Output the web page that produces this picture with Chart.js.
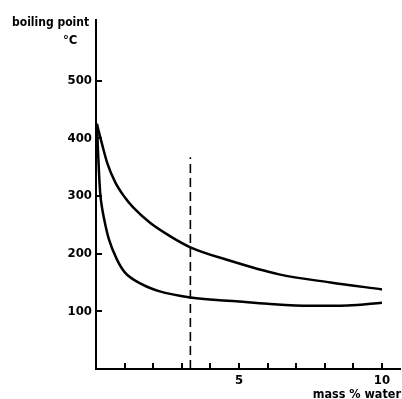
<!DOCTYPE html>
<html>
<head>
<meta charset="utf-8" />
<title>boiling point vs mass % water</title>
<script src="https://cdn.jsdelivr.net/npm/chart.js@4.4.0/dist/chart.umd.min.js"></script>
<style>
  body { margin: 0; background: #fff; }
  #wrap { position: relative; width: 402px; height: 399px; }
</style>
</head>
<body>
<div id="wrap"><canvas id="myChart" width="402" height="399"></canvas></div>

<script>
// values
const upperX = [0.03, 0.2, 0.4, 0.67, 1.0, 1.3, 1.9, 2.6, 3.3, 4.6, 6.4, 8.2, 10];
const upperY = [425, 392, 356, 324, 298, 280, 253, 230, 211, 189, 164, 150, 138];
const lowerX = [0.03, 0.07, 0.11, 0.15, 0.2, 0.28, 0.45, 0.73, 1.0, 1.6, 2.2, 3.3, 5, 6, 7.5, 8.8, 10];
const lowerY = [425, 378, 335, 303, 283, 261, 225, 190, 168, 147, 135, 124, 117, 113, 109.5, 110, 115];
const dashX = [3.3, 3.3];
const dashY = [0, 367];
const yTicks = [100, 200, 300, 400, 500];
const xTicks = [1, 2, 3, 4, 5, 6, 7, 8, 9, 10];
const xLabels = [5, 10];

const FONT = '"DejaVu Sans Condensed", "DejaVu Sans", sans-serif';

function pts(xs, ys) {
  return xs.map(function (x, i) { return { x: x, y: ys[i] }; });
}

// small tick marks pointing into the plot, plus the axis texts
const extras = {
  id: 'extras',
  afterDraw: function (chart) {
    const c = chart.ctx;
    const xs = chart.scales.x, ys = chart.scales.y;
    const left = chart.chartArea.left, bottom = chart.chartArea.bottom;
    c.save();
    c.strokeStyle = '#000';
    c.lineWidth = 2;
    c.beginPath();
    yTicks.forEach(function (v) {
      const py = Math.round(ys.getPixelForValue(v));
      c.moveTo(left, py);
      c.lineTo(left + 6, py);
    });
    xTicks.forEach(function (v) {
      const px = Math.round(xs.getPixelForValue(v));
      c.moveTo(px, bottom);
      c.lineTo(px, bottom - 6);
    });
    c.stroke();

    c.fillStyle = '#000';
    c.font = 'bold 12px ' + FONT;
    c.textBaseline = 'alphabetic';
    c.textAlign = 'left';
    c.fillText('boiling point', 12, 26);
    c.font = 'bold 13px ' + FONT;
    c.fillText('°C', 63, 44);
    c.font = 'bold 12.5px ' + FONT;
    c.textAlign = 'right';
    c.fillText('mass % water', 401, 398);
    c.restore();
  }
};

const ctx = document.getElementById('myChart');
const myChart = new Chart(ctx, {
  type: 'scatter',
  data: {
    datasets: [{
      label: 'upper',
      data: pts(upperX, upperY),
      showLine: true,
      borderColor: '#000',
      borderWidth: 2.5,
      pointRadius: 0,
      cubicInterpolationMode: 'monotone'
    }, {
      label: 'lower',
      data: pts(lowerX, lowerY),
      showLine: true,
      borderColor: '#000',
      borderWidth: 2.5,
      pointRadius: 0,
      cubicInterpolationMode: 'monotone'
    }, {
      label: 'dashed',
      data: pts(dashX, dashY),
      showLine: true,
      borderColor: '#000',
      borderWidth: 1.6,
      borderDash: [9, 5],
      pointRadius: 0
    }]
  },
  options: {
    responsive: false,
    animation: false,
    events: [],
    layout: { padding: { top: 20, right: 2, left: 0, bottom: 0 } },
    plugins: { legend: { display: false }, tooltip: { enabled: false } },
    scales: {
      x: {
        type: 'linear',
        min: 0,
        max: 10.63,
        grid: { display: false, drawTicks: false },
        border: { display: true, color: '#000', width: 2 },
        afterBuildTicks: function (s) {
          s.ticks = xLabels.map(function (v) { return { value: v }; });
        },
        ticks: {
          autoSkip: false,
          maxRotation: 0,
          padding: 4,
          color: '#000',
          font: { family: FONT, size: 13, weight: 'bold' }
        },
        afterFit: function (s) { s.height = 30; }
      },
      y: {
        min: 0,
        max: 605,
        grid: { display: false, drawTicks: false },
        border: { display: true, color: '#000', width: 2 },
        afterBuildTicks: function (s) {
          s.ticks = yTicks.map(function (v) { return { value: v }; });
        },
        ticks: {
          autoSkip: false,
          padding: 4,
          color: '#000',
          font: { family: FONT, size: 13, weight: 'bold' }
        },
        afterFit: function (s) { s.width = 96; }
      }
    }
  },
  plugins: [extras]
});
</script>
</body>
</html>
